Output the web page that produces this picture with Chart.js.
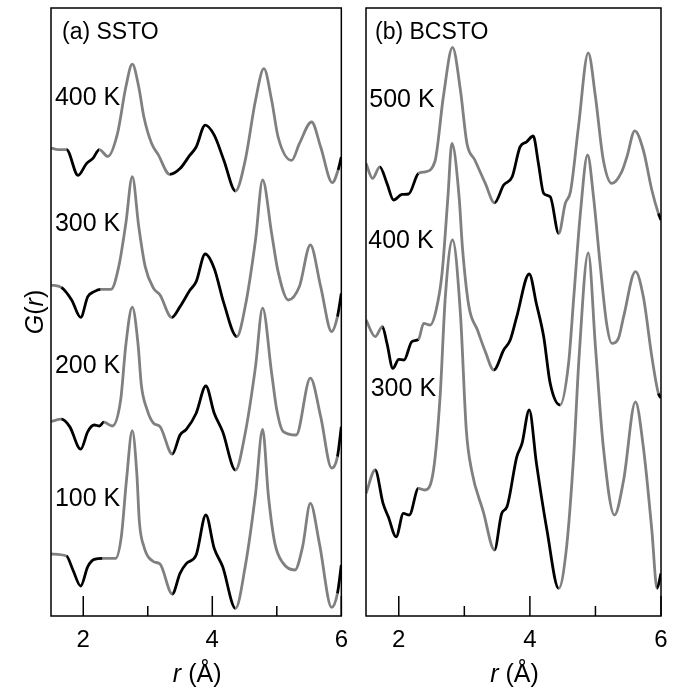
<!DOCTYPE html>
<html>
<head>
<meta charset="utf-8">
<script src="https://cdn.jsdelivr.net/npm/chart.js@4"></script>
<style>
body { margin: 0; background: #fff; }
#wrap { position: relative; width: 685px; height: 689px; }
canvas { position: absolute; top: 0; }
</style>
</head>
<body>
<div id="wrap">
  <canvas id="chartA" width="358" height="689" style="left:0"></canvas>
  <canvas id="chartB" width="327" height="689" style="left:358px"></canvas>
</div>
<script>
// r in Å, G(r), relative to the start of each curve
const ssto400R = [1.5,1.61,1.74,1.92,2.05,2.15,2.25,2.38,2.53,2.66,2.76,2.86,2.94,3.06,3.16,3.34,3.5,3.65,3.75,3.89,4.03,4.18,4.36,4.51,4.67,4.8,4.92,5.02,5.23,5.35,5.54,5.68,5.86,5.95,6.0];
const ssto400G = [0,-0.08,-0.08,-1.37,-0.78,-0.52,-0.08,-0.42,0.72,3.05,4.19,3.05,1.55,0.22,-0.32,-1.32,-1.03,-0.37,0.05,1.14,0.64,-0.62,-2.15,-0.62,2.39,3.97,2.39,0.55,-0.62,0.22,1.3,0.05,-1.73,-1.1,-0.45];

const ssto300R = [1.5,1.66,1.82,1.96,2.07,2.17,2.27,2.43,2.55,2.66,2.76,2.86,2.96,3.09,3.19,3.37,3.5,3.65,3.75,3.89,4.03,4.18,4.38,4.51,4.67,4.78,4.92,5.02,5.18,5.35,5.52,5.68,5.85,5.94,6.0];
const ssto300G = [0,-0.12,-0.75,-1.62,-0.58,-0.33,-0.22,-0.22,0.92,3.08,5.42,2.92,0.92,-0.17,-0.5,-1.62,-1.08,-0.28,0.17,1.55,0.83,-0.92,-2.58,-1.08,2.25,5.25,2.58,0.67,-0.75,-0.08,2.0,-0.08,-2.33,-1.58,-0.42];

const ssto200R = [1.5,1.66,1.79,1.96,2.07,2.17,2.25,2.32,2.45,2.58,2.66,2.76,2.85,2.9,2.99,3.09,3.19,3.38,3.5,3.6,3.75,3.9,4.03,4.16,4.36,4.51,4.67,4.78,4.92,5.0,5.1,5.3,5.52,5.68,5.85,5.94,6.0];
const ssto200G = [0,0.12,-0.25,-1.38,-0.5,-0.17,-0.22,-0.03,-0.22,1.09,3.84,5.72,3.84,1.84,0.59,-0.08,-0.25,-1.62,-0.67,-0.38,0.42,1.78,0.42,-0.5,-2.42,-0.58,2.75,5.67,2.42,0.58,-0.5,-0.67,2.17,0.25,-2.33,-1.75,-0.25];

const ssto100R = [1.5,1.74,1.84,1.96,2.07,2.17,2.3,2.5,2.59,2.67,2.76,2.83,2.87,2.94,3.09,3.19,3.38,3.5,3.6,3.75,3.9,4.03,4.16,4.36,4.51,4.67,4.78,4.87,4.97,5.1,5.28,5.4,5.52,5.66,5.85,5.94,6.0];
const ssto100G = [0,-0.1,-0.8,-1.6,-0.63,-0.27,-0.22,-0.22,0.87,3.7,6.17,4.03,1.6,0.37,-0.38,-0.5,-2.0,-0.97,-0.47,-0.05,1.95,0.28,-0.63,-2.72,-0.63,3.0,6.23,2.9,0.53,-0.47,-0.8,0.37,2.53,0.53,-2.67,-1.97,-0.55];

const bcsto500R = [1.5,1.6,1.71,1.82,1.92,2.05,2.15,2.3,2.4,2.55,2.68,2.82,2.94,3.04,3.16,3.32,3.46,3.6,3.73,3.85,3.95,4.05,4.13,4.21,4.31,4.44,4.54,4.62,4.74,4.89,5.0,5.12,5.25,5.4,5.48,5.6,5.73,5.86,5.96,6.0];
const bcsto500G = [0,-0.75,-0.17,-1.0,-1.83,-1.55,-1.53,-0.5,-0.42,0.08,3.33,5.8,3.67,1.0,0.17,-1.0,-1.97,-1.08,-0.67,0.83,1.08,1.37,0,-1.5,-1.67,-3.5,-2.0,-1.4,1.8,5.53,3.33,0.17,-1.0,-0.42,0.33,1.63,0.67,-1.33,-2.5,-2.83];

const bcsto400R = [1.5,1.64,1.75,1.82,1.91,2.0,2.08,2.2,2.3,2.38,2.48,2.57,2.66,2.75,2.81,2.92,2.97,3.07,3.2,3.32,3.45,3.6,3.7,3.8,3.99,4.1,4.21,4.31,4.46,4.59,4.67,4.77,4.88,4.97,5.07,5.17,5.25,5.35,5.43,5.61,5.73,5.86,5.96,6.0];
const bcsto400G = [0,-0.83,-0.33,-1.17,-2.42,-1.97,-2.0,-1.08,-0.97,-0.17,-0.25,0.5,2.33,6.17,8.83,6.17,3.67,0.67,-0.5,-1.58,-2.5,-1.5,-1.0,0.17,2.3,0.8,-0.83,-3.17,-4.25,-2.17,1.17,5.33,8.25,6.17,2.83,-0.17,-1.17,-0.92,0.17,2.42,1.17,-1.83,-3.67,-3.9];

const bcsto300R = [1.5,1.64,1.76,1.84,1.96,2.07,2.16,2.3,2.4,2.53,2.63,2.71,2.82,2.94,3.03,3.11,3.29,3.46,3.57,3.65,3.8,3.88,3.99,4.1,4.26,4.44,4.56,4.67,4.75,4.89,5.0,5.12,5.29,5.43,5.61,5.73,5.86,5.94,6.0];
const bcsto300G = [0,1.17,-0.5,-1.17,-2.17,-1.0,-1.08,0.25,0.17,1.17,4.83,9.83,12.67,9.0,3.17,1.17,-0.92,-2.83,-1.0,-0.67,1.83,2.5,4.17,1.5,-1.83,-4.75,-2.67,2.0,6.8,12.03,7.33,2.33,-1.08,0.67,4.58,2.33,-1.83,-4.75,-4.0];

// vertical offsets of the stacked curves
const sstoOffsets = [23.4, 16.55, 9.72, 3.1];
const bcstoOffsets = [22.63, 14.8, 6.13];
const sstoTemps = ['400 K', '300 K', '200 K', '100 K'];
const bcstoTemps = ['500 K', '400 K', '300 K'];

const xTicks = [2, 4, 6];
const xMinorTicks = [3, 5];

const FONT = '"Liberation Sans", Arial, Helvetica, sans-serif';
const GRAY = '#808080';

// r ranges drawn in black
const sstoBlack = [[1.7, 2.3], [3.3, 4.4], [5.93, 6.01]];
const bcstoBlack = [[1.72, 2.32], [3.42, 4.47], [5.93, 6.01]];
const bcsto300Black = [[1.63, 2.32], [3.42, 4.47], [5.93, 6.01]];

function makeSet(rs, gs, off, black) {
  return {
    data: rs.map((r, i) => ({ x: r, y: gs[i] + off })),
    borderColor: GRAY,
    borderWidth: 2.8,
    pointRadius: 0,
    cubicInterpolationMode: 'monotone',
    segment: {
      borderColor: (c) => {
        const mid = (c.p0.parsed.x + c.p1.parsed.x) / 2;
        return black.some(([a, b]) => mid > a && mid < b) ? '#000' : GRAY;
      }
    }
  };
}

const panelDecor = {
  id: 'panelDecor',
  afterDatasetsDraw(chart, args, o) {
    const { ctx, chartArea: a } = chart;
    const x = chart.scales.x, y = chart.scales.y;
    ctx.save();
    ctx.strokeStyle = '#000';
    ctx.lineWidth = 1.5;
    ctx.strokeRect(a.left, a.top, a.right - a.left, a.bottom - a.top);
    ctx.beginPath();
    xTicks.forEach(v => {
      const px = x.getPixelForValue(v);
      ctx.moveTo(px, a.bottom); ctx.lineTo(px, a.bottom - 20);
    });
    xMinorTicks.forEach(v => {
      const px = x.getPixelForValue(v);
      ctx.moveTo(px, a.bottom); ctx.lineTo(px, a.bottom - 10);
    });
    ctx.stroke();

    ctx.fillStyle = '#000';
    ctx.textBaseline = 'alphabetic';
    ctx.textAlign = 'left';
    ctx.font = '25px ' + FONT;
    o.temps.forEach((t, i) => {
      ctx.fillText(t, x.getPixelForValue(o.tempAt[i][0]), y.getPixelForValue(o.tempAt[i][1]));
    });

    ctx.font = '23px ' + FONT;
    ctx.fillText(o.title, a.left + o.titleDx, a.top + 31);

    // x axis title: r (Å)
    const it = 'italic 25px ' + FONT, rm = '25px ' + FONT;
    ctx.font = it; const w1 = ctx.measureText('r').width;
    ctx.font = rm; const w2 = ctx.measureText(' (Å)').width;
    const cx = (a.left + a.right) / 2 + 1;
    const sx = cx - (w1 + w2) / 2;
    ctx.font = it; ctx.fillText('r', sx, 682);
    ctx.font = rm; ctx.fillText(' (Å)', sx + w1, 682);

    if (o.yTitle) {
      ctx.translate(36, (a.top + a.bottom) / 2);
      ctx.rotate(-Math.PI / 2);
      ctx.textBaseline = 'middle';
      ctx.font = it;
      const parts = [['G', it], ['(', rm], ['r', it], [')', rm]];
      let tw = 0;
      parts.forEach(p => { ctx.font = p[1]; tw += ctx.measureText(p[0]).width; });
      let px = -tw / 2;
      parts.forEach(p => { ctx.font = p[1]; ctx.fillText(p[0], px, 0); px += ctx.measureText(p[0]).width; });
    }
    ctx.restore();
  }
};

function panelOptions(padding, decor) {
  return {
    responsive: false,
    animation: false,
    devicePixelRatio: 1,
    layout: { padding },
    plugins: { legend: { display: false }, tooltip: { enabled: false }, panelDecor: decor },
    scales: {
      x: {
        type: 'linear', min: 1.5, max: 6,
        afterBuildTicks: (s) => { s.ticks = xTicks.map(v => ({ value: v })); },
        afterFit: (s) => { s.height = 73; },
        grid: { display: false, drawTicks: false },
        border: { display: false },
        ticks: { color: '#000', font: { family: FONT, size: 24 }, padding: 10, maxRotation: 0, autoSkip: false }
      },
      y: { display: false, min: 0, max: 30.4 }
    }
  };
}

new Chart(document.getElementById('chartA'), {
  type: 'line',
  data: {
    datasets: [
      makeSet(ssto400R, ssto400G, sstoOffsets[0], sstoBlack),
      makeSet(ssto300R, ssto300G, sstoOffsets[1], sstoBlack),
      makeSet(ssto200R, ssto200G, sstoOffsets[2], sstoBlack),
      makeSet(ssto100R, ssto100G, sstoOffsets[3], sstoBlack)
    ]
  },
  options: panelOptions({ left: 51, top: 8, right: 12, bottom: 0 }, {
    title: '(a) SSTO', titleDx: 11, yTitle: true,
    temps: sstoTemps,
    tempAt: [[1.561, 25.55], [1.561, 19.25], [1.561, 12.15], [1.561, 5.5]]
  }),
  plugins: [panelDecor]
});

new Chart(document.getElementById('chartB'), {
  type: 'line',
  data: {
    datasets: [
      makeSet(bcsto500R, bcsto500G, bcstoOffsets[0], bcstoBlack),
      makeSet(bcsto400R, bcsto400G, bcstoOffsets[1], bcstoBlack),
      makeSet(bcsto300R, bcsto300G, bcstoOffsets[2], bcsto300Black)
    ]
  },
  options: panelOptions({ left: 8, top: 8, right: 24, bottom: 0 }, {
    title: '(b) BCSTO', titleDx: 9, yTitle: false,
    temps: bcstoTemps,
    tempAt: [[1.55, 25.45], [1.535, 18.4], [1.572, 10.98]]
  }),
  plugins: [panelDecor]
});
</script>
</body>
</html>
